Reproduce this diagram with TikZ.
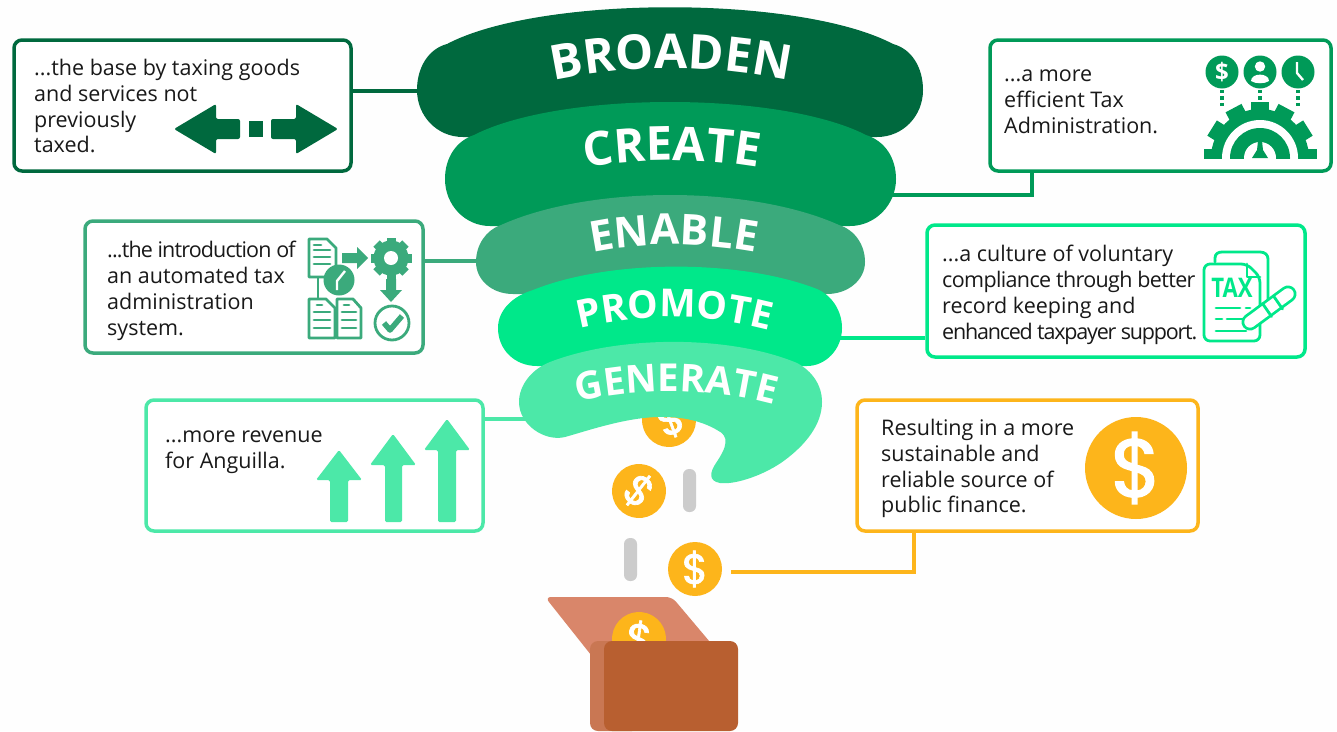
\documentclass[tikz,border=0pt]{standalone}
\usepackage{fontspec}
\setmainfont{Open Sans}
\newfontfamily\dollarfont[FakeBold=1.6]{Poppins}
\usetikzlibrary{decorations.text}
\definecolor{cBroaden}{HTML}{00693E}
\definecolor{cCreate}{HTML}{009A58}
\definecolor{cEnable}{HTML}{3BAA7C}
\definecolor{cPromote}{HTML}{00E88A}
\definecolor{cGenerate}{HTML}{4CE8A8}
\definecolor{cCoin}{HTML}{FDB51B}
\definecolor{cPill}{HTML}{CCCCCC}
\definecolor{cLid}{HTML}{D9866A}
\definecolor{cBack}{HTML}{C97753}
\definecolor{cFront}{HTML}{B85F30}
\definecolor{cPage}{HTML}{FEFEFE}
\newcommand{\tightline}[2]{{\addfontfeatures{LetterSpace=#1}#2}}
\tikzset{
  infobox/.style={draw=#1,line width=3.5pt,rounded corners=8pt,fill=white,inner sep=0pt},
  label/.style={anchor=north west,align=left,inner sep=0pt,font=\fontsize{21.5}{25.8}\selectfont,text=black!90},
  link/.style={draw=#1,line width=3.5pt},
  coin/.style={circle,fill=cCoin,inner sep=0pt,minimum size=54pt,text=white,font=\dollarfont\fontsize{42}{42}\selectfont},
  pill/.style={fill=cPill,rounded corners=6pt},
  icon/.style={draw=#1,line width=2.8pt,line join=round,line cap=round},
  curved/.style 2 args={decorate,decoration={text along path,text align=center,text={|\fontsize{#1}{#1}\selectfont\bfseries\color{white}|#2}}},
}
\newcommand{\gear}[5]{% x y r hole colour
  \fill[#5] (#1,#2) circle[radius=#3-3];
  \foreach \a in {0,45,...,315}{\fill[#5,rotate around={\a:(#1,#2)}] (#1-4.5,#2-#3) rectangle (#1+4.5,#2);}
  \fill[white] (#1,#2) circle[radius=#4];}
\begin{document}
\begin{tikzpicture}[x=1pt,y=-1pt]
\useasboundingbox (0,0) rectangle (1337,731);
\fill[cPage] (0,0) rectangle (1337,731);
% boxes
\node[infobox=cBroaden,minimum width=337pt,minimum height=131pt] (box1) at (182.5,105.5) {};
\node[infobox=cCreate,minimum width=341pt,minimum height=131pt] (box2) at (1160.5,105.5) {};
\node[infobox=cEnable,minimum width=338pt,minimum height=132pt] (box3) at (254,287) {};
\node[infobox=cPromote,minimum width=378pt,minimum height=132pt] (box4) at (1116,291) {};
\node[infobox=cGenerate,minimum width=337pt,minimum height=131pt] (box5) at (314.5,465.5) {};
\node[infobox=cCoin,minimum width=341pt,minimum height=131pt] (box6) at (1027.5,465.5) {};
% connector ends
\coordinate (endB) at (425,91);
\coordinate (bendC) at (1032,195);
\coordinate (endC) at (885,195);
\coordinate (endE) at (485,261);
\coordinate (endP) at (835,338);
\coordinate (endG) at (530,419);
\coordinate (startCoin) at (731,572);
\coordinate (bendCoin) at (914,572);
\draw[link=cBroaden] (box1.east |- endB) -- (endB);
\draw[link=cCreate] (box2.south -| bendC) -- (bendC) -- (endC);
\draw[link=cEnable] (box3.east |- endE) -- (endE);
\draw[link=cPromote] (box4.west |- endP) -- (endP);
\draw[link=cGenerate] (box5.east |- endG) -- (endG);
\draw[link=cCoin] (startCoin) -- (bendCoin) -- (box6.south -| bendCoin);
% coins, pills, chest
\node[coin,rotate=-160] (coinTop) at (669,420) {\$};
\node[coin,rotate=-38] (coinA) at (639,491) {\$};
\node[coin] (coinB) at (695,569) {\$};
\fill[pill] (683,469) rectangle (696,512);
\fill[pill] (624,538) rectangle (637,581);
\fill[cLid,rounded corners=6pt] (545,597) -- (672,597) -- (715,648) -- (595,660) -- cycle;
\node[coin,rotate=-8] (coinC) at (639,639) {\$};
\fill[cBack,rounded corners=8pt] (590,641) rectangle (640,731);
\fill[cFront,rounded corners=8pt] (604,641) rectangle (738,731);
% bands
\fill[cBroaden] (447,44) .. controls (540,-5) and (800,-5) .. (893,44) .. controls (912,49) and (923,68) .. (923,90) .. controls (923,116) and (903,137) .. (877,137) -- (463,137) .. controls (437,137) and (417,116) .. (417,90) .. controls (417,68) and (428,49) .. (447,44) -- cycle;
\fill[cCreate] (474,135) .. controls (560,91) and (780,91) .. (866,135) .. controls (885,141) and (896,158) .. (896,179) .. controls (896,205) and (875,226) .. (850,226) -- (490,226) .. controls (465,226) and (445,205) .. (445,179) .. controls (445,158) and (456,141) .. (474,135) -- cycle;
\fill[cEnable] (501,225) .. controls (590,185) and (750,185) .. (839,225) .. controls (855,230) and (865,245) .. (865,262) .. controls (865,280) and (848,294) .. (827,294) -- (513,294) .. controls (492,294) and (476,280) .. (476,262) .. controls (476,245) and (486,230) .. (501,225) -- cycle;
\fill[cPromote] (533,290) .. controls (610,259) and (740,259) .. (817,289) .. controls (833,296) and (842,312) .. (842,328) .. controls (842,350) and (825,366) .. (807,366) -- (537,366) .. controls (515,366) and (498,350) .. (498,328) .. controls (498,310) and (513,296) .. (533,290) -- cycle;
\fill[cGenerate] (550,362) .. controls (620,335) and (730,335) .. (797,363) .. controls (812,371) and (822,385) .. (822,402) .. controls (822,425) and (805,445) .. (785,460) .. controls (765,475) and (735,485) .. (720,483) .. controls (708,481) and (710,472) .. (716,463) .. controls (727,447) and (730,436) .. (717,430) .. controls (700,420) and (680,417) .. (665,417) .. controls (630,416) and (590,430) .. (565,437) .. controls (545,442) and (519,425) .. (519,402) .. controls (519,385) and (532,369) .. (550,362) -- cycle;
% band titles
\path[curved={48}{BROADEN}] (552,81) .. controls (630,64) and (710,64) .. (790,81);
\path[curved={47}{CREATE}] (585,168) .. controls (640,158) and (700,158) .. (759,168);
\path[curved={42.5}{ENABLE}] (590,253) .. controls (640,242) and (700,242) .. (758,253);
\path[curved={38.5}{PROMOTE}] (577,329) .. controls (640,313) and (705,313) .. (772,331);
\path[curved={38.5}{GENERATE}] (575,402) .. controls (640,387) and (710,387) .. (777,406);
% texts
\node[label] (t1) at (34,59) {...the base by taxing goods\\and services not\\previously\\taxed.};
\node[label] (t2) at (1004,70) {...a more\\efficient Tax\\Administration.};
\node[label] (t3) at (107,241) {\tightline{-4}{...the introduction of}\\an automated tax\\administration\\system.};
\node[label] (t4) at (942,245) {...a culture of voluntary\\\tightline{-3}{compliance through better}\\record keeping and\\\tightline{-5.6}{enhanced taxpayer support.}};
\node[label] (t5) at (165,431) {...more revenue\\for Anguilla.};
\node[label] (t6) at (881,419) {Resulting in a more\\sustainable and\\reliable source of\\public finance.};
% box1 arrows
\fill[cBroaden,rounded corners=2pt] (174,129) -- (216,104) -- (216,119) -- (240,119) -- (240,139) -- (216,139) -- (216,154) -- cycle;
\fill[cBroaden] (249,121) rectangle (263,137);
\fill[cBroaden,rounded corners=2pt] (338,129) -- (296,104) -- (296,119) -- (271,119) -- (271,139) -- (296,139) -- (296,154) -- cycle;
% box5 arrows
\fill[cGenerate,rounded corners=1.5pt] (339,450) -- (362,480) -- (348,480) -- (348,522) -- (330,522) -- (330,480) -- (316,480) -- cycle;
\fill[cGenerate,rounded corners=1.5pt] (393,434) -- (416,465) -- (402,465) -- (402,522) -- (385,522) -- (385,465) -- (370,465) -- cycle;
\fill[cGenerate,rounded corners=1.5pt] (447,419) -- (470,450) -- (456,450) -- (456,522) -- (438,522) -- (438,450) -- (424,450) -- cycle;
% box6 big coin
\node[coin,minimum size=102pt,font=\dollarfont\fontsize{82}{82}\selectfont] (bigCoin) at (1136,468) {\$};
% box3 icon
\draw[icon=cEnable] (318,278) -- (318,298);
\draw[icon=cEnable,fill=white] (309,239) -- (327,239) -- (336,248) -- (336,277) -- (309,277) -- cycle;
\draw[icon=cEnable] (314,250) -- (330,250) (314,257) -- (330,257) (314,264) -- (330,264);
\draw[icon=cEnable] (314,245) -- (321,245);
\fill[cEnable] (339,280) circle[radius=15.5];
\draw[white,line width=2.4pt,line join=round] (345,271) -- (337,281) -- (337,290);
\fill[cEnable] (342,253) -- (357,253) -- (357,247) -- (368,258) -- (357,269) -- (357,263) -- (342,263) -- cycle;
\gear{391}{258}{20.5}{7}{cEnable}
\fill[cEnable] (386,279) -- (396,279) -- (396,290) -- (402,290) -- (391,302) -- (380,290) -- (386,290) -- cycle;
\draw[cEnable,line width=2.8pt] (392,323) circle[radius=17];
\draw[cEnable,line width=5.5pt,line join=round] (384,323) -- (390,330) -- (402,316);
\draw[icon=cEnable] (309,299) -- (326,299) -- (335,308) -- (335,338) -- (309,338) -- cycle;
\draw[icon=cEnable] (337,299) -- (353,299) -- (361,308) -- (361,338) -- (337,338) -- cycle;
\draw[icon=cEnable] (314,312) -- (330,312) (314,320) -- (330,320) (314,328) -- (330,328) (342,312) -- (356,312) (342,320) -- (356,320) (342,328) -- (356,328) (317,305) -- (322,305) (344,305) -- (349,305);
% box2 icon
\foreach \n/\x in {a/1222,b/1260,c/1298}{
  \fill[cCreate] (\x,72) circle[radius=16.5];
  \draw[cCreate,line width=3.4pt,dash pattern=on 3.4pt off 3pt] (\x,90) -- (\x,109);
}
\node[text=white,inner sep=0pt,font=\fontsize{24}{24}\selectfont\bfseries] (iconDollar) at (1222,72) {\$};
\fill[white] (1260,66.5) circle[radius=5.2];
\fill[white] (1251,81) .. controls (1251,72.5) and (1269,72.5) .. (1269,81) .. controls (1265,84) and (1255,84) .. (1251,81) -- cycle;
\draw[white,line width=2.4pt,line join=round] (1297,62) -- (1297,73) -- (1303,80);
\begin{scope}
  \clip (1195,95) rectangle (1325,158);
  \fill[cCreate] (1260,158) circle[radius=49];
  \foreach \a in {-90,-58,-28,0,28,58,90}{
    \fill[cCreate,rotate around={\a:(1260,158)}] (1251,101.5) rectangle (1269,118);
  }
  \fill[white] (1260,158) circle[radius=38];
  \fill[cCreate] (1260,158) circle[radius=30];
  \fill[white] (1260,158) circle[radius=16];
\end{scope}
\fill[cCreate] (1258,141) -- (1262,141) -- (1263,150) -- (1268,158) -- (1252,158) -- (1257,150) -- cycle;
% box4 icon
\draw[icon=cPromote] (1215,262) -- (1215,258) .. controls (1215,254) and (1218,252) .. (1222,252) -- (1260,252) .. controls (1265,252) and (1268,255) .. (1268,259) -- (1268,310);
\draw[icon=cPromote,fill=white,rounded corners=6pt] (1204,264) -- (1247,264) -- (1260,277) -- (1260,341) -- (1204,341) -- cycle;
\draw[icon=cPromote] (1247,264) -- (1247,277) -- (1260,277);
\node[text=cPromote,inner sep=0pt,xscale=.82,font=\fontsize{27}{27}\selectfont\bfseries] (taxText) at (1232,288) {TAX};
\draw[icon=cPromote] (1216,308) -- (1240,308) (1246,308) -- (1250,308) (1216,319) -- (1222,319) (1227,319) -- (1252,319) (1216,331) -- (1246,331);
\draw[cPromote,line width=17pt,line cap=round] (1250,322) -- (1288,294);
\draw[white,line width=11.4pt,line cap=round] (1250,322) -- (1288,294);
\draw[icon=cPromote] (1262.5,303.5) -- (1271.5,316.5) (1273.5,296) -- (1282.5,309);
\end{tikzpicture}
\end{document}
